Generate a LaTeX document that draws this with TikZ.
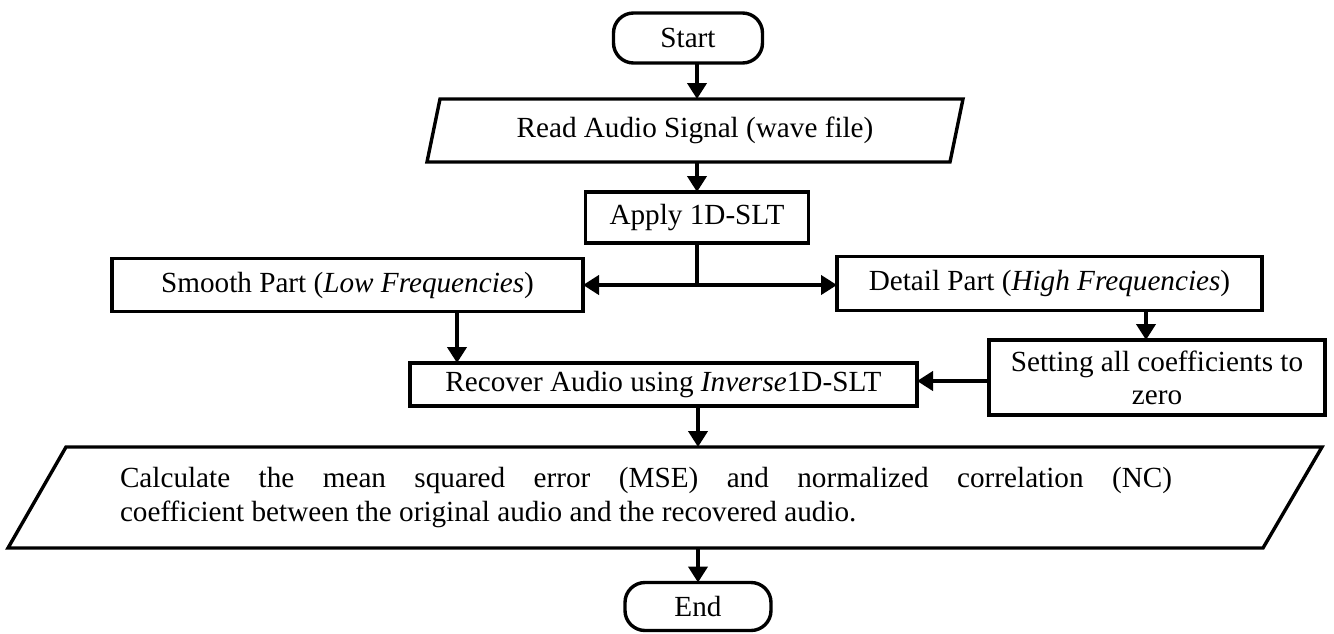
\documentclass[tikz,border=0pt]{standalone}
\usepackage{fontspec}
\setmainfont{Liberation Serif}
\usetikzlibrary{arrows.meta,calc}
\begin{document}
\hbadness=10000 \hfuzz=50pt
\begin{tikzpicture}[x=0.5pt,y=-0.5pt,
  every node/.style={font=\fontsize{14.6pt}{16.5pt}\selectfont, inner sep=0pt, outer sep=0pt},
  box/.style={draw, line width=1.7pt, align=center},
  term/.style={draw, line width=1.7pt, rounded corners=10pt},
  frame/.style={line width=1.7pt, line join=miter},
  arr/.style={line width=2.4pt, -{Triangle[length=8pt,width=9.5pt]}},
  plain/.style={line width=2.4pt}
]
\useasboundingbox (0,0) rectangle (1334,633);

% nodes
\node[term, minimum width=74.5pt, minimum height=25pt] (start) at (688,38) {Start};
\node[minimum width=261.5pt, minimum height=31.5pt] (read) at (695,130.5) {Read Audio Signal (wave file)};
\draw[frame] ($(read.north west)+(6.5,0)$) -- ($(read.north east)+(6.5,0)$) -- ($(read.south east)+(-6.5,0)$) -- ($(read.south west)+(-6.5,0)$) -- cycle;
\node[box, minimum width=111.5pt, minimum height=25.5pt] (apply) at (697,217.5) {Apply 1D-SLT};
\node[box, minimum width=235.5pt, minimum height=26.5pt] (smooth) at (347.5,285) {Smooth Part (\textit{Low Frequencies})};
\node[box, minimum width=212.5pt, minimum height=27pt] (detail) at (1049.5,283.5) {Detail Part (\textit{High Frequencies})};
\node[box, minimum width=168pt, minimum height=37.5pt] (set) at (1157,377.5) {Setting all coefficients to\\zero};
\node[box, minimum width=253.5pt, minimum height=21.5pt] (rec) at (663.5,384.5) {Recover Audio using \textit{Inverse}1D-SLT};
\node[text width=526pt, align=justify, minimum height=50.5pt, anchor=west,
      font=\fontsize{14.6pt}{17pt}\selectfont] (calc) at (120,497.5) {Calculate the mean squared error (MSE) and normalized correlation (NC)\linebreak coefficient between the original audio and the recovered audio.};
\draw[frame] ($(calc.north west)+(-54,0)$) -- ($(calc.north east)+(150,0)$) -- ($(calc.south east)+(91,0)$) -- ($(calc.south west)+(-112,0)$) -- cycle;
\node[term, minimum width=73pt, minimum height=24pt] (end) at (698,606.5) {End};

% connectors
\coordinate (ax) at (697,0);
\coordinate (sx) at (457,0);
\coordinate (dx) at (1146,0);
\coordinate (sy) at (0,381);
\coordinate (cx) at (698,0);
\draw[arr] (start.south -| ax) -- (read.north -| ax);
\draw[arr] (read.south -| ax) -- (apply.north -| ax);
\coordinate (j) at (apply.south |- smooth.east);
\draw[plain] (apply.south) -- (j);
\draw[arr] (j) -- (smooth.east);
\draw[arr] (j) -- (detail.west |- j);
\draw[arr] (smooth.south -| sx) -- (rec.north -| sx);
\draw[arr] (detail.south -| dx) -- (set.north -| dx);
\draw[arr] (set.west |- sy) -- (rec.east |- sy);
\draw[arr] (rec.south -| cx) -- (calc.north -| cx);
\draw[arr] (calc.south -| cx) -- (end.north -| cx);
\end{tikzpicture}
\end{document}
